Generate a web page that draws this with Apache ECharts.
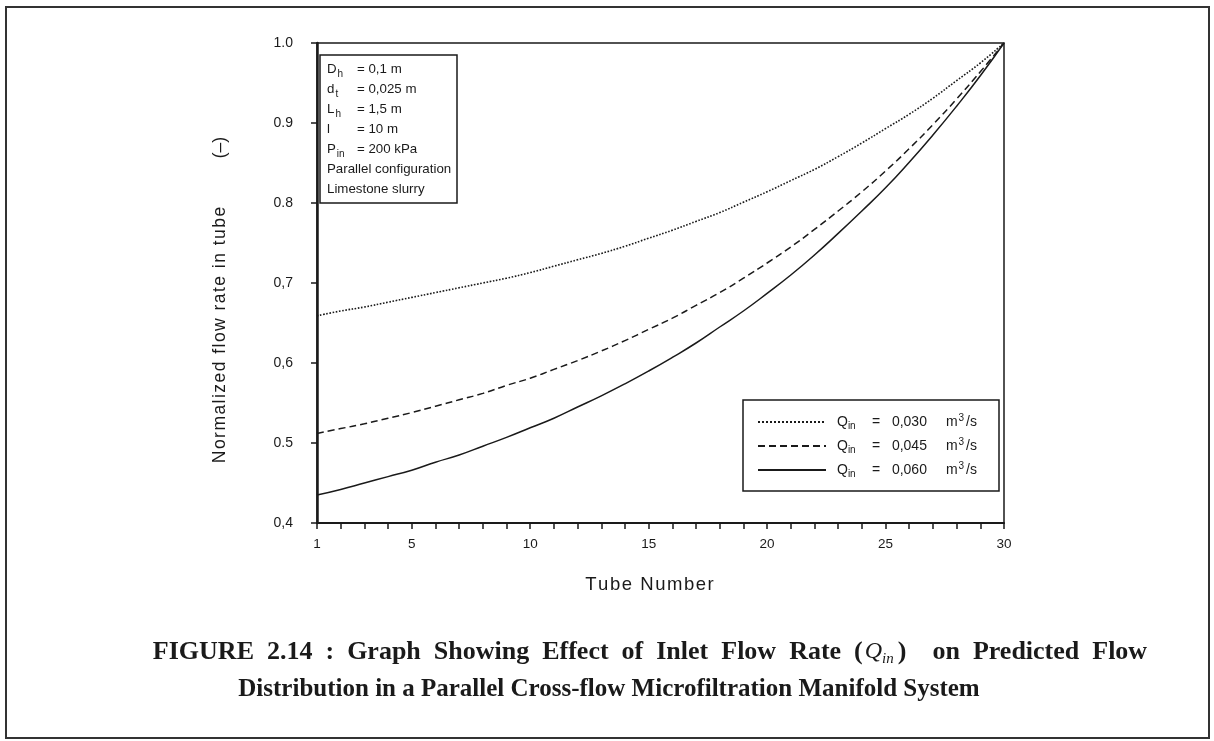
<!DOCTYPE html>
<html>
<head>
<meta charset="utf-8">
<script src="https://cdn.jsdelivr.net/npm/echarts@6/dist/echarts.min.js"></script>
<style>
  html, body { margin: 0; padding: 0; background: #fff; }
  #chart { width: 1214px; height: 741px; }
</style>
</head>
<body>
<div id="chart"></div>
<script>
// ---------- data ----------
const tubes = [1,2,3,4,5,6,7,8,9,10,11,12,13,14,15,16,17,18,19,20,21,22,23,24,25,26,27,28,29,30];
const q030 = [0.659,0.665,0.670,0.676,0.682,0.688,0.694,0.700,0.706,0.713,0.721,0.729,0.737,0.746,0.756,0.766,0.777,0.788,0.801,0.814,0.828,0.842,0.858,0.875,0.893,0.911,0.931,0.953,0.975,1.000];
const q045 = [0.512,0.518,0.524,0.531,0.538,0.546,0.554,0.562,0.572,0.581,0.592,0.603,0.615,0.628,0.642,0.656,0.672,0.688,0.706,0.725,0.745,0.767,0.790,0.814,0.840,0.868,0.898,0.930,0.964,1.000];
const q060 = [0.435,0.442,0.450,0.458,0.466,0.476,0.485,0.496,0.507,0.519,0.531,0.545,0.559,0.574,0.590,0.607,0.625,0.645,0.665,0.687,0.710,0.735,0.762,0.790,0.819,0.851,0.885,0.921,0.959,1.000];
const seriesFlows = ['0,030','0,045','0,060'];
const xTickLabels = {1:'1',5:'5',10:'10',15:'15',20:'20',25:'25',30:'30'};
const yTickLabels = ['0,4','0.5','0,6','0,7','0.8','0.9','1.0'];
const xAxisName = 'Tube Number';
const yAxisName = 'Normalized flow rate in tube';
const yAxisUnit = '(\u2013)';
const annotLines = [
  ['D','h','= 0,1 m'],
  ['d','t','= 0,025 m'],
  ['L','h','= 1,5 m'],
  ['l',' ','= 10 m'],
  ['P','in','= 200 kPa'],
  ['','','Parallel configuration'],
  ['','','Limestone slurry']
];
const captionLine1a = 'FIGURE 2.14 : Graph Showing Effect of Inlet Flow Rate (';
const captionLine1b = ')  on Predicted Flow';
const captionLine2 = 'Distribution in a Parallel Cross-flow Microfiltration Manifold System';

// ---------- chart ----------
const FONT = 'Liberation Sans, DejaVu Sans, sans-serif';
const SERIF = 'Liberation Serif, DejaVu Serif, serif';
const INK = '#1a1a1a';
const HAIR = '\u200A';
function spaced(s) { return s.split('').join(HAIR); }
function wideSpaces(s) { return s.split(' ').join('  '); }

const chart = echarts.init(document.getElementById('chart'), null, { renderer: 'canvas' });

// measure annotation symbol widths so "=" signs line up
const AF = 13.3;
const mctx = document.createElement('canvas').getContext('2d');
mctx.font = AF + 'px Liberation Sans';
const annotRich = {
  e: { fontSize: AF, fontFamily: FONT, color: INK, lineHeight: 20 },
  w: { fontSize: AF, fontFamily: FONT, color: INK, lineHeight: 20 }
};
const annotText = annotLines.map(function (l, i) {
  if (!l[0]) return '{w|' + l[2] + '}';
  const wN = mctx.measureText(l[0]).width;
  annotRich['n' + i] = { fontSize: AF, fontFamily: FONT, color: INK, lineHeight: 20 };
  annotRich['s' + i] = { fontSize: 10, fontFamily: FONT, color: INK, verticalAlign: 'bottom', lineHeight: 15, width: Math.max(4, 29 - wN), padding: [0, 0, 0, 1] };
  return '{n' + i + '|' + l[0] + '}{s' + i + '|' + l[1] + '}{e|' + l[2] + '}';
}).join('\n');

const names = seriesFlows.map(function (f) { return 'Q_in = ' + f + ' m3/s'; });
const lineTypes = ['dotted', [7, 4], 'solid'];
const valueSets = [q030, q045, q060];

const series = valueSets.map(function (vals, i) {
  return {
    name: names[i],
    type: 'line',
    symbol: 'none',
    smooth: true,
    silent: true,
    data: tubes.map(function (t, j) { return [t, vals[j]]; }),
    lineStyle: { color: INK, width: i === 0 ? 1.6 : 1.5, type: lineTypes[i] },
    itemStyle: { color: INK }
  };
});

const option = {
  backgroundColor: '#fff',
  animation: false,
  textStyle: { fontFamily: FONT, color: INK },
  grid: {
    left: 317, right: 210, top: 43, bottom: 218,
    show: true, borderColor: INK, borderWidth: 1.5
  },
  title: {
    left: 320, top: 55,
    text: annotText,
    borderColor: INK, borderWidth: 1.5,
    padding: [4, 6, 4, 7],
    textStyle: {
      fontFamily: FONT, fontWeight: 'normal', color: INK, fontSize: AF, lineHeight: 20,
      rich: annotRich
    }
  },
  legend: {
    orient: 'vertical',
    left: 743, top: 400,
    itemWidth: 68, itemHeight: 14, itemGap: 6,
    padding: [13, 14, 12, 14],
    borderColor: INK, borderWidth: 1.5,
    selectedMode: false,
    itemStyle: { opacity: 0 },
    data: names,
    formatter: function (name) {
      const f = seriesFlows[names.indexOf(name)];
      return '{q|Q}{sub|in}{eq|=}{num|' + f + '}{t|m}{sup|3}{ts|/s}';
    },
    textStyle: {
      fontFamily: FONT, color: INK, fontSize: 14,
      rich: {
        q: { fontSize: 14, fontFamily: FONT, color: INK, lineHeight: 18, padding: [0, 0, 0, 6] },
        sub: { fontSize: 10, fontFamily: FONT, color: INK, verticalAlign: 'bottom', lineHeight: 12, width: 24 },
        eq: { fontSize: 14, fontFamily: FONT, color: INK, lineHeight: 18, width: 20 },
        num: { fontSize: 14, fontFamily: FONT, color: INK, lineHeight: 18, width: 54 },
        t: { fontSize: 14, fontFamily: FONT, color: INK, lineHeight: 18 },
        ts: { fontSize: 14, fontFamily: FONT, color: INK, lineHeight: 18, padding: [0, 8, 0, 1] },
        sup: { fontSize: 10, fontFamily: FONT, color: INK, verticalAlign: 'top', lineHeight: 12, padding: [0, 1, 0, 1] }
      }
    }
  },
  xAxis: {
    type: 'value',
    min: 1, max: 30, interval: 1,
    name: spaced(xAxisName),
    nameLocation: 'middle', nameGap: 52,
    nameTextStyle: { fontFamily: FONT, fontSize: 18.5, color: INK, padding: [0, 22, 0, 0] },
    axisLine: { show: true, lineStyle: { color: INK, width: 2 } },
    axisTick: { show: true, inside: false, length: 6, lineStyle: { color: INK, width: 1.5 } },
    axisLabel: {
      show: true, margin: 14, fontSize: 13.5, color: INK, fontFamily: FONT,
      formatter: function (v) { return xTickLabels[v] !== undefined ? xTickLabels[v] : ''; }
    },
    splitLine: { show: false }
  },
  yAxis: {
    type: 'value',
    min: 0.4, max: 1.0, interval: 0.1,
    name: spaced(yAxisName) + '          ' + yAxisUnit + '       ',
    nameLocation: 'middle', nameGap: 88,
    nameTextStyle: { fontFamily: FONT, fontSize: 17.5, color: INK },
    axisLine: { show: true, lineStyle: { color: INK, width: 2.5 } },
    axisTick: { show: true, inside: false, length: 6, lineStyle: { color: INK, width: 1.5 } },
    axisLabel: {
      show: true, margin: 24, fontSize: 14, color: INK, fontFamily: FONT,
      formatter: function (v) { return yTickLabels[Math.round((v - 0.4) * 10)]; }
    },
    splitLine: { show: false }
  },
  graphic: [
    {
      type: 'rect', silent: true, z: -1,
      shape: { x: 6, y: 7, width: 1203, height: 731 },
      style: { fill: 'none', stroke: '#333', lineWidth: 2 }
    },
    {
      type: 'text', silent: true,
      x: 650, y: 652,
      style: {
        text: '{t|' + wideSpaces(captionLine1a) + '}{i|Q}{is|in}{t|' + wideSpaces(captionLine1b) + '}',
        align: 'center', verticalAlign: 'middle',
        rich: {
          t: { fontFamily: SERIF, fontWeight: 'bold', fontSize: 26, fill: INK, lineHeight: 30 },
          i: { fontFamily: SERIF, fontStyle: 'italic', fontSize: 24, fill: INK, lineHeight: 30, padding: [0, 0, 0, 2] },
          is: { fontFamily: SERIF, fontStyle: 'italic', fontSize: 15, fill: INK, verticalAlign: 'bottom', lineHeight: 20, padding: [0, 4, 0, 0] }
        }
      }
    },
    {
      type: 'text', silent: true,
      x: 609, y: 690,
      style: {
        text: captionLine2,
        align: 'center', verticalAlign: 'middle',
        fontFamily: SERIF, fontWeight: 'bold', fontSize: 25, fill: INK
      }
    }
  ],
  series: series
};
chart.setOption(option);
</script>
</body>
</html>
